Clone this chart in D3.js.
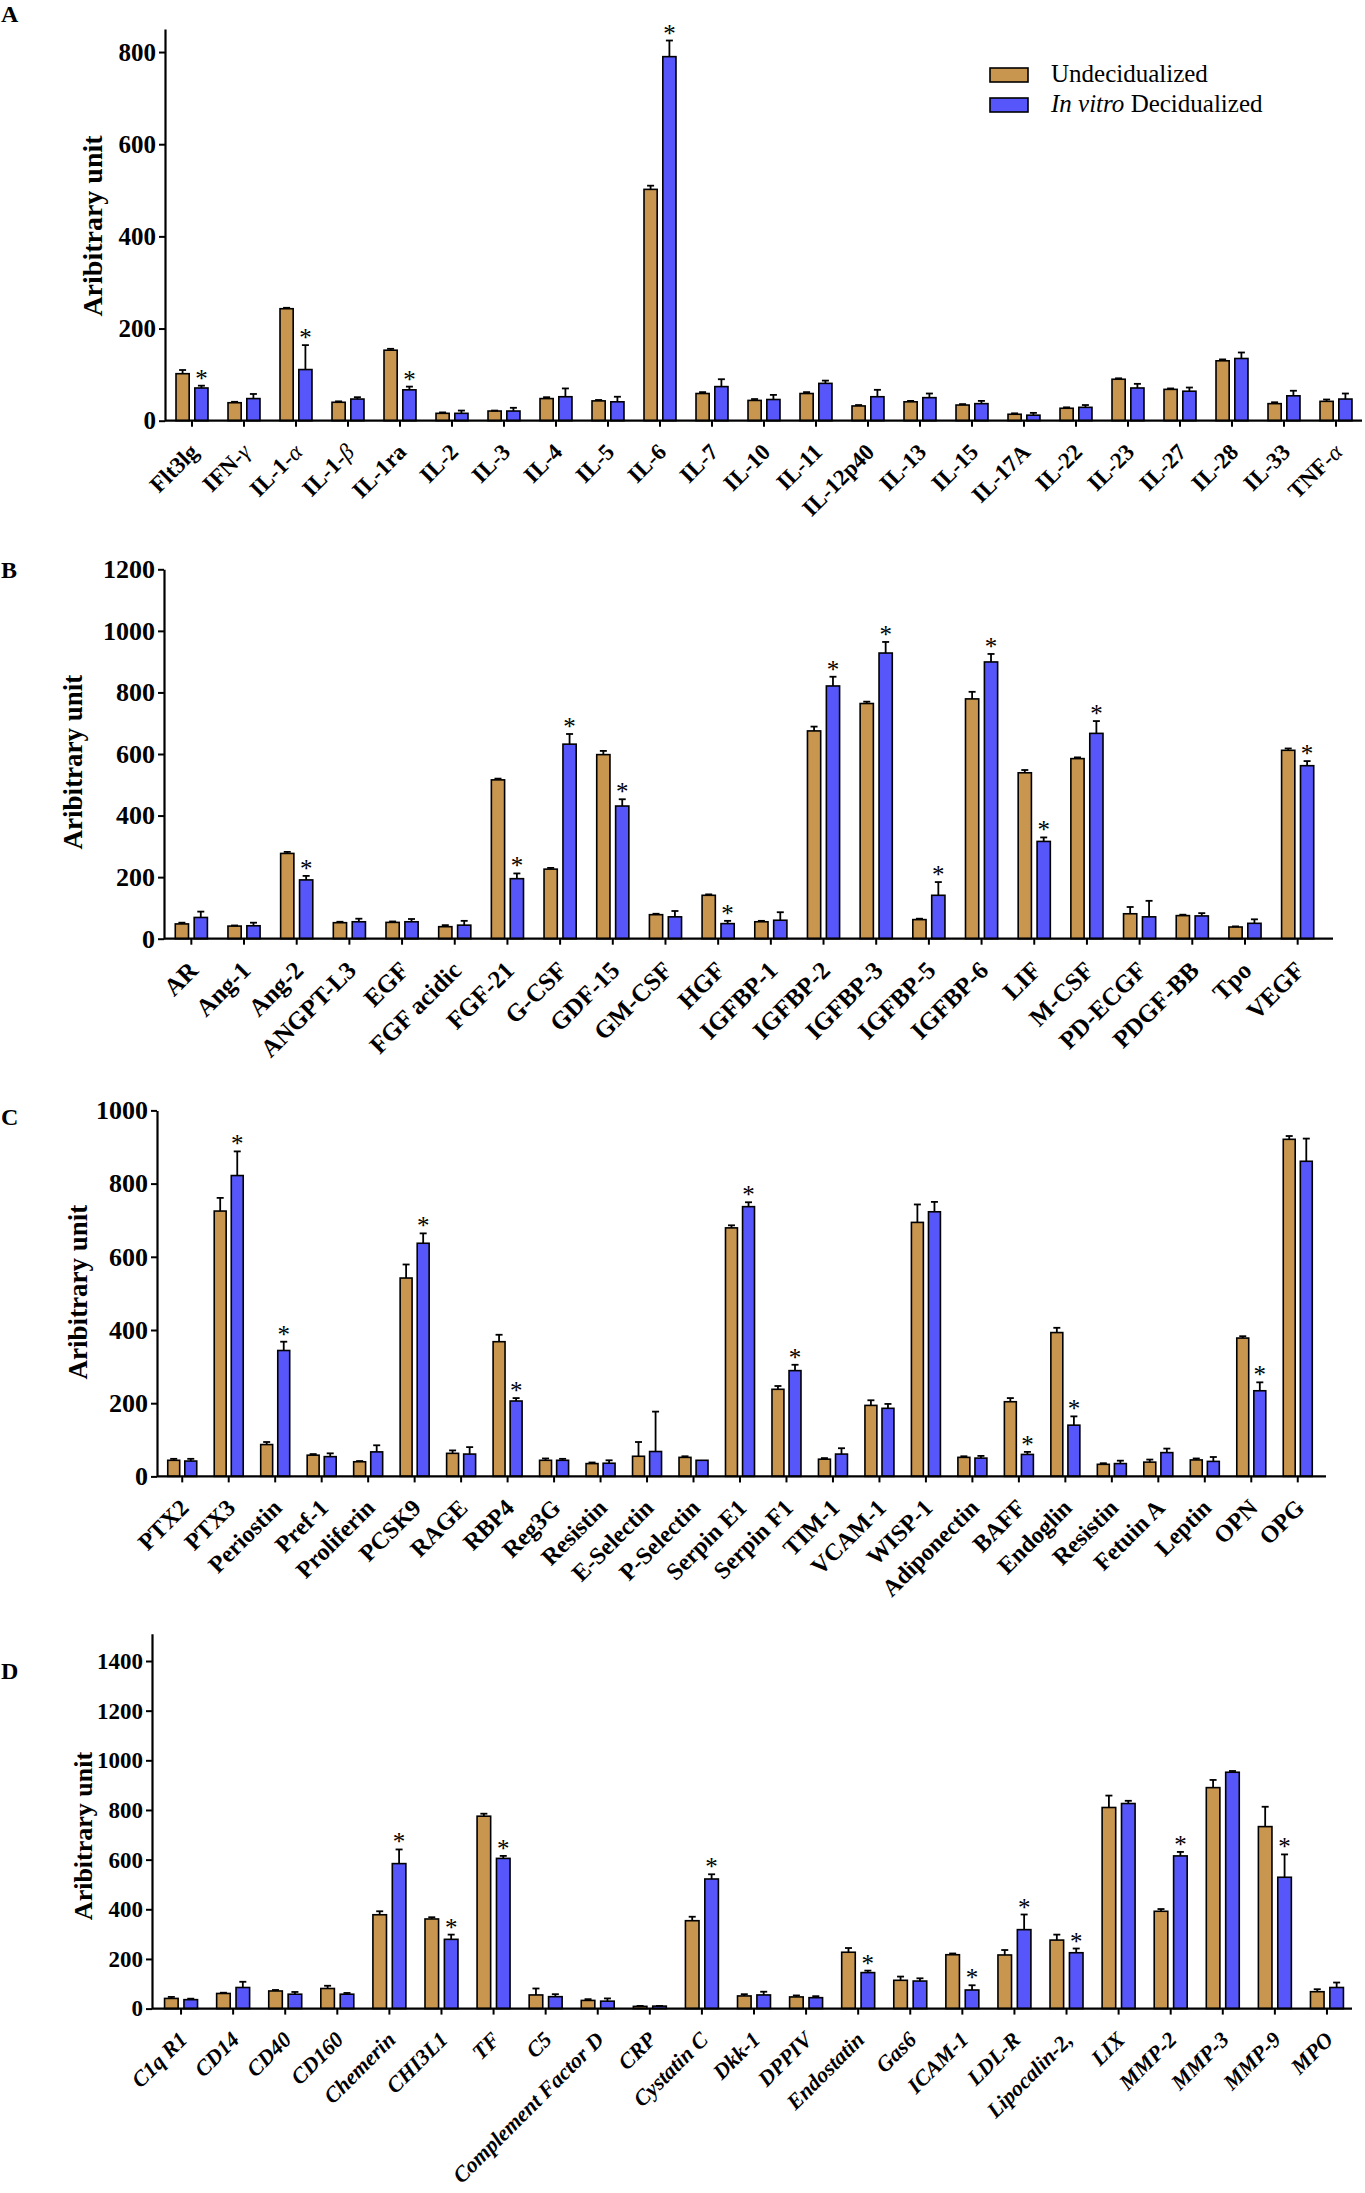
<!DOCTYPE html>
<html>
<head>
<meta charset="utf-8">
<script src="https://cdn.jsdelivr.net/npm/d3@7"></script>
<style>
body { margin: 0; background: #fff; }
svg { display: block; }
text { font-family: "Liberation Serif", "Times New Roman", serif; }
</style>
</head>
<body>
<div id="chart"></div>
<script>
// ---- panel A : cytokines
const catsA = ["Flt3lg","IFN-γ","IL-1-α","IL-1-β","IL-1ra","IL-2","IL-3","IL-4","IL-5","IL-6","IL-7","IL-10","IL-11","IL-12p40","IL-13","IL-15","IL-17A","IL-22","IL-23","IL-27","IL-28","IL-33","TNF-α"];
const undecA    = [102,39,243,40,153,16,21,48,43,502,59,44,59,32,41,34,14,27,90,68,130,37,42];
const undecErrA = [8,2,2,2,3,2,1,3,2,8,3,3,3,2,2,2,2,2,2,2,3,3,4];
const decA      = [71,48,111,47,67,16,21,52,41,790,74,46,81,52,50,37,12,29,71,64,135,54,47];
const decErrA   = [5,10,53,4,7,6,7,18,11,35,16,10,6,15,9,6,5,5,9,8,13,11,12];
const starsA    = ["Flt3lg","IL-1-α","IL-1ra","IL-6"];

// ---- panel B : growth factors
const catsB = ["AR","Ang-1","Ang-2","ANGPT-L3","EGF","FGF acidic","FGF-21","G-CSF","GDF-15","GM-CSF","HGF","IGFBP-1","IGFBP-2","IGFBP-3","IGFBP-5","IGFBP-6","LIF","M-CSF","PD-ECGF","PDGF-BB","Tpo","VEGF"];
const undecB    = [48,41,277,52,53,39,516,226,598,78,141,55,675,764,62,779,539,585,81,75,38,612];
const undecErrB = [4,2,5,3,3,5,4,4,12,3,3,3,14,6,3,23,9,4,22,3,2,6];
const decB      = [69,42,191,55,55,44,195,632,431,71,49,60,821,928,141,899,316,667,71,74,50,562];
const decErrB   = [19,10,13,10,9,14,17,33,22,19,9,26,30,36,43,26,13,40,52,9,13,15];
const starsB    = ["Ang-2","FGF-21","G-CSF","GDF-15","HGF","IGFBP-2","IGFBP-3","IGFBP-5","IGFBP-6","LIF","M-CSF","VEGF"];

// ---- panel C
const catsC = ["PTX2","PTX3","Periostin","Pref-1","Proliferin","PCSK9","RAGE","RBP4","Reg3G","Resistin","E-Selectin","P-Selectin","Serpin E1","Serpin F1","TIM-1","VCAM-1","WISP-1","Adiponectin","BAFF","Endoglin","Resistin","Fetuin A","Leptin","OPN","OPG"];
const undecC    = [44,725,87,58,40,542,63,368,44,35,55,52,679,238,47,194,694,52,204,393,33,39,45,378,921];
const undecErrC = [4,36,7,3,2,37,8,19,5,3,39,3,7,9,3,14,49,3,10,13,3,7,4,5,9];
const decC      = [42,822,344,54,67,637,61,206,44,36,68,44,737,289,61,186,723,50,60,140,35,65,41,234,861];
const decErrC   = [6,66,24,9,18,27,19,8,4,8,109,0,12,16,16,12,27,6,7,24,8,11,12,23,62];
const starsC    = ["PTX3","Periostin","PCSK9","RBP4","Serpin E1","Serpin F1","BAFF","Endoglin","OPN"];

// ---- panel D
const catsD = ["C1q R1","CD14","CD40","CD160","Chemerin","CHI3L1","TF","C5","Complement Factor D","CRP","Cystatin C","Dkk-1","DPPIV","Endostatin","Gas6","ICAM-1","LDL-R","Lipocalin-2,","LIX","MMP-2","MMP-3","MMP-9","MPO"];
const undecD    = [41,61,71,81,378,361,775,55,33,9,354,51,47,227,114,217,216,276,810,392,890,733,68];
const undecErrD = [6,3,4,11,14,7,10,26,5,2,16,7,6,17,15,5,20,22,48,9,31,80,10];
const decD      = [36,85,58,58,584,279,605,48,30,10,522,55,44,145,111,75,318,225,826,615,952,529,85];
const decErrD   = [4,23,9,5,57,19,10,10,11,1,19,13,6,8,11,19,61,17,11,16,5,92,20];
const starsD    = ["Chemerin","CHI3L1","TF","Cystatin C","Endostatin","ICAM-1","LDL-R","Lipocalin-2,","MMP-2","MMP-9"];

const legendLabels = ["Undecidualized", "Decidualized"];

const colorUndec = "#c8964e";
const colorDec = "#5656fa";
const width = 1365, height = 2193;
const serif = "'Liberation Serif', 'Times New Roman', serif";

const svg = d3.select("#chart").append("svg")
	.attr("width", width)
	.attr("height", height)
	.attr("viewBox", [0, 0, width, height]);

function drawPanel(p) {
	const g = svg.append("g");
	const n = p.cats.length;

	const y = d3.scaleLinear().domain([0, p.ymax]).range([p.y0, p.yTop]);
	const x0 = d3.scaleBand().domain(d3.range(n))
		.range([p.xStart, p.xEnd])
		.paddingInner(p.pad).paddingOuter(p.pad / 2);
	const x1 = d3.scaleBand().domain([0, 1])
		.range([0, x0.bandwidth()])
		.paddingInner(0.3);

	const series = [
		{vals: p.undec, errs: p.undecErr, color: colorUndec},
		{vals: p.dec, errs: p.decErr, color: colorDec}
	];

	// bars
	series.forEach((s, si) => {
		const sg = g.append("g");
		sg.selectAll("rect")
			.data(s.vals)
			.join("rect")
				.attr("x", (d, i) => x0(i) + x1(si))
				.attr("y", d => y(d))
				.attr("width", x1.bandwidth())
				.attr("height", d => y(0) - y(d))
				.attr("fill", s.color)
				.attr("stroke", "#000")
				.attr("stroke-width", 1.6);

		// error bars (upper half only)
		const eb = sg.append("g").attr("stroke", "#000").attr("stroke-width", 1.8);
		s.vals.forEach((v, i) => {
			const e = s.errs[i];
			if (!e) return;
			const cx = x0(i) + x1(si) + x1.bandwidth() / 2;
			eb.append("line").attr("x1", cx).attr("x2", cx).attr("y1", y(v)).attr("y2", y(v + e));
			eb.append("line").attr("x1", cx - 3.5).attr("x2", cx + 3.5).attr("y1", y(v + e)).attr("y2", y(v + e));
		});
	});

	// significance stars
	g.append("g")
		.selectAll("text")
		.data(d3.range(n).filter(i => p.stars.includes(p.cats[i])))
		.join("text")
			.attr("x", i => x0(i) + x1(1) + x1.bandwidth() / 2)
			.attr("y", i => y(p.dec[i] + p.decErr[i]) + 1)
			.attr("text-anchor", "middle")
			.attr("font-size", 25)
			.text("*");

	// y axis
	const yAxis = g.append("g")
		.attr("transform", `translate(${p.axisX},0)`)
		.call(d3.axisLeft(y)
			.tickValues(d3.range(0, p.tickMax + 1, 200))
			.tickFormat(d3.format("d"))
			.tickSize(6)
			.tickSizeOuter(0)
			.tickPadding(3));
	yAxis.select(".domain").attr("stroke-width", 2.2);
	yAxis.selectAll(".tick line").attr("stroke-width", 2);
	yAxis.selectAll(".tick text")
		.attr("font-family", serif)
		.attr("font-size", p.tickFont)
		.attr("font-weight", "bold")
		.attr("fill", "#000");

	// x axis
	const xAxis = g.append("g")
		.attr("transform", `translate(0,${p.y0})`)
		.call(d3.axisBottom(x0)
			.tickSize(6)
			.tickSizeOuter(0)
			.tickFormat(i => p.cats[i]));
	xAxis.select(".domain").remove();
	xAxis.append("line")
		.attr("x1", p.axisX).attr("x2", p.lineEnd)
		.attr("stroke", "#000").attr("stroke-width", 2.2);
	xAxis.selectAll(".tick line").attr("stroke-width", 2);
	xAxis.selectAll(".tick text")
		.attr("y", null)
		.attr("dy", "0.35em")
		.attr("transform", "translate(2,27) rotate(-45)")
		.attr("text-anchor", "end")
		.attr("font-family", serif)
		.attr("font-size", p.labelFont)
		.attr("font-weight", "bold")
		.attr("font-style", p.italic ? "italic" : "normal")
		.attr("fill", "#000")
		.each(function(i) {
			const t = d3.select(this);
			const parts = p.cats[i].split(/([α-ω])/).filter(s => s.length);
			t.text(null);
			parts.forEach(s => {
				const sp = t.append("tspan").text(s);
				if (/[α-ω]/.test(s)) sp.attr("font-style", "italic").attr("font-weight", "normal");
			});
		});

	// y label
	g.append("text")
		.attr("transform", `translate(${p.labelX},${p.labelY}) rotate(-90)`)
		.attr("text-anchor", "middle")
		.attr("font-size", p.titleFont)
		.attr("font-weight", "bold")
		.text("Aribitrary unit");

	// panel letter
	g.append("text")
		.attr("x", 1)
		.attr("y", p.letterY)
		.attr("font-size", 24)
		.attr("font-weight", "bold")
		.text(p.letter);
}

drawPanel({
	letter: "A", letterY: 22,
	cats: catsA, undec: undecA, undecErr: undecErrA, dec: decA, decErr: decErrA, stars: starsA,
	ymax: 850, tickMax: 800, y0: 420.7, yTop: 29,
	axisX: 165, xStart: 166, xEnd: 1362, lineEnd: 1362, pad: 0.385,
	tickFont: 25, labelFont: 23, titleFont: 28, labelX: 102, labelY: 226, italic: false
});

drawPanel({
	letter: "B", letterY: 578,
	cats: catsB, undec: undecB, undecErr: undecErrB, dec: decB, decErr: decErrB, stars: starsB,
	ymax: 1200, tickMax: 1200, y0: 938.7, yTop: 569.3,
	axisX: 164, xStart: 165, xEnd: 1324, lineEnd: 1333, pad: 0.39,
	tickFont: 26, labelFont: 25, titleFont: 27, labelX: 82, labelY: 762, italic: false
});

drawPanel({
	letter: "C", letterY: 1125,
	cats: catsC, undec: undecC, undecErr: undecErrC, dec: decC, decErr: decErrC, stars: starsC,
	ymax: 1000, tickMax: 1000, y0: 1476.4, yTop: 1110.4,
	axisX: 157, xStart: 159, xEnd: 1321, lineEnd: 1326, pad: 0.376,
	tickFont: 26, labelFont: 24, titleFont: 27, labelX: 87, labelY: 1292, italic: false
});

drawPanel({
	letter: "D", letterY: 1679,
	cats: catsD, undec: undecD, undecErr: undecErrD, dec: decD, decErr: decErrD, stars: starsD,
	ymax: 1510, tickMax: 1400, y0: 2008.6, yTop: 1633.7,
	axisX: 152, xStart: 155, xEnd: 1353, lineEnd: 1352, pad: 0.367,
	tickFont: 23, labelFont: 22, titleFont: 26, labelX: 92, labelY: 1836, italic: true
});

// legend (panel A)
const legend = svg.append("g").attr("font-size", 25);
legendLabels.forEach((lab, i) => {
	const ly = 68 + i * 30;
	legend.append("rect")
		.attr("x", 990).attr("y", ly)
		.attr("width", 38).attr("height", 14)
		.attr("fill", i === 0 ? colorUndec : colorDec)
		.attr("stroke", "#000").attr("stroke-width", 1.6);
	const t = legend.append("text").attr("x", 1051).attr("y", ly + 14);
	if (i === 1) t.append("tspan").attr("font-style", "italic").text("In vitro ");
	t.append("tspan").text(lab);
});
</script>
</body>
</html>
